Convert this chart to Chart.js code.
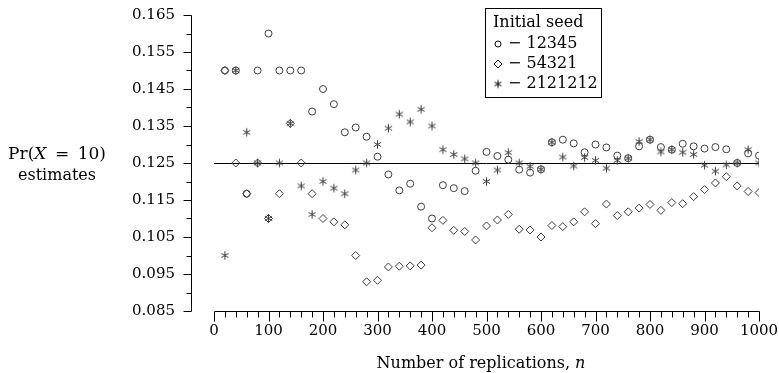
<!DOCTYPE html>
<html><head><meta charset="utf-8">
<script src="https://cdn.jsdelivr.net/npm/chart.js@4/dist/chart.umd.min.js"></script>
<style>html,body{margin:0;padding:0;background:#fff}canvas{display:block}</style>
</head><body>
<canvas id="c" width="779" height="373" style="width:779px;height:373px"></canvas>
<script>
// ---- data ----
const replications = [20,40,60,80,100,120,140,160,180,200,220,240,260,280,300,320,340,360,380,400,
  420,440,460,480,500,520,540,560,580,600,620,640,660,680,700,720,740,760,780,800,
  820,840,860,880,900,920,940,960,980,1000];
const seed12345 = [0.15,0.15,0.1167,0.15,0.16,0.15,0.15,0.15,0.1389,0.145,
  0.1409,0.1333,0.1346,0.1321,0.1267,0.1219,0.1176,0.1194,0.1132,0.11,
  0.119,0.1182,0.1174,0.1229,0.128,0.1269,0.1259,0.1232,0.1224,0.1233,
  0.1306,0.1313,0.1303,0.1279,0.13,0.1292,0.127,0.1263,0.1295,0.1313,
  0.1293,0.1286,0.1302,0.1295,0.1289,0.1293,0.1287,0.125,0.1276,0.127];
const seed54321 = [0.15,0.125,0.1167,0.125,0.11,0.1167,0.1357,0.125,0.1167,0.11,
  0.1091,0.1083,0.1,0.0929,0.0933,0.0969,0.0971,0.0972,0.0974,0.1075,
  0.1095,0.1068,0.1065,0.1042,0.108,0.1096,0.1111,0.1071,0.1069,0.105,
  0.1081,0.1078,0.1091,0.1118,0.1086,0.1139,0.1108,0.1118,0.1128,0.1138,
  0.1122,0.1143,0.114,0.1159,0.1178,0.1196,0.1213,0.1188,0.1173,0.117];
const seed2121212 = [0.1,0.15,0.1333,0.125,0.11,0.125,0.1357,0.1188,0.1111,0.12,
  0.1182,0.1167,0.1231,0.125,0.13,0.1344,0.1382,0.1361,0.1395,0.135,
  0.1286,0.1273,0.1261,0.125,0.12,0.1231,0.1278,0.125,0.1241,0.1233,
  0.1306,0.1266,0.1242,0.1265,0.1257,0.1236,0.1257,0.1263,0.1308,0.1313,
  0.128,0.1286,0.1279,0.1273,0.1244,0.1228,0.1245,0.125,0.1286,0.125];
const seriesNames = ['12345','54321','2121212'];
const legendTitle = 'Initial seed';
const referenceX = [0, 1000];
const referenceY = [0.125, 0.125];
const xTickValues = [0,100,200,300,400,500,600,700,800,900,1000];
const yTickValues = [0.085,0.095,0.105,0.115,0.125,0.135,0.145,0.155,0.165];
const xTitleParts = [['Number of replications, ', false], ['n', true]];
const yTitleLine1 = [['Pr(', false], ['X', true], ['\u2002=\u200210)', false]];
const yTitleLine2 = [['estimates', false]];

// ---- styles ----
const FONT = '"DejaVu Serif", serif';
const MARK = '#3c3c3c';

function makeStar(r, color) {
  const s = 11;
  const c = document.createElement('canvas');
  c.width = s; c.height = s;
  const g = c.getContext('2d');
  g.strokeStyle = color; g.lineWidth = 1;
  const cx = s / 2, cy = s / 2;
  for (let k = 0; k < 3; k++) {
    const a = Math.PI / 2 + k * Math.PI / 3;
    g.beginPath();
    g.moveTo(cx + r * Math.cos(a), cy + r * Math.sin(a));
    g.lineTo(cx - r * Math.cos(a), cy - r * Math.sin(a));
    g.stroke();
  }
  return c;
}
const starImg = makeStar(4.2, MARK);

const pts = arr => replications.map((n, i) => ({x: n, y: arr[i]}));

function drawMixed(ctx, parts, cx, cy, size) {
  let total = 0;
  const ws = parts.map(([t, it]) => {
    ctx.font = (it ? 'italic ' : '') + size + 'px ' + FONT;
    const w = ctx.measureText(t).width; total += w; return w;
  });
  let x = cx - total / 2;
  parts.forEach(([t, it], i) => {
    ctx.font = (it ? 'italic ' : '') + size + 'px ' + FONT;
    ctx.fillText(t, x, cy); x += ws[i];
  });
}

const decor = {
  id: 'decor',
  beforeDatasetDraw(chart, args) {
    chart.ctx.save();
    if (args.index === 3) chart.ctx.translate(0, 0.5);
  },
  afterDatasetDraw(chart) { chart.ctx.restore(); },
  afterDraw(chart) {
    const ctx = chart.ctx, xa = chart.scales.x, ya = chart.scales.y;
    ctx.save();
    ctx.strokeStyle = '#000'; ctx.lineWidth = 1; ctx.fillStyle = '#000';
    const yTop = Math.round(ya.getPixelForValue(ya.max)) + 0.5;
    const yBot = Math.round(ya.getPixelForValue(ya.min)) + 0.5;
    const ax = Math.round(chart.chartArea.left - 23) + 0.5;
    // y axis
    ctx.beginPath(); ctx.moveTo(ax, yTop); ctx.lineTo(ax, yBot); ctx.stroke();
    for (let k = 0; k <= 16; k++) {
      const v = ya.min + k * 0.005;
      const py = Math.round(ya.getPixelForValue(v)) + 0.5;
      const len = k % 2 === 0 ? 8 : 5;
      ctx.beginPath(); ctx.moveTo(ax - len, py); ctx.lineTo(ax, py); ctx.stroke();
    }
    // x axis
    const x0 = Math.round(xa.getPixelForValue(xa.min)) + 0.5;
    const x1 = Math.round(xa.getPixelForValue(xa.max)) + 0.5;
    ctx.beginPath(); ctx.moveTo(x0, yBot); ctx.lineTo(x1, yBot); ctx.stroke();
    for (let v = 0; v <= 1000; v += 20) {
      const px = Math.round(xa.getPixelForValue(v)) + 0.5;
      const len = v % 100 === 0 ? 10 : 6;
      ctx.beginPath(); ctx.moveTo(px, yBot); ctx.lineTo(px, yBot + len); ctx.stroke();
    }
    // titles
    ctx.textBaseline = 'middle';
    drawMixed(ctx, yTitleLine1, 57, 155, 17);
    drawMixed(ctx, yTitleLine2, 57, 176, 16);
    drawMixed(ctx, xTitleParts, 481, 364, 16);
    // legend
    ctx.strokeRect(485.5, 8.5, 116, 89);
    ctx.font = '16px ' + FONT; ctx.textAlign = 'left';
    ctx.fillText(legendTitle, 493, 23);
    const rows = [44, 64, 84];
    chart.data.datasets.slice(0, 3).forEach((ds, i) => {
      const y = rows[i], x = 498;
      ctx.strokeStyle = '#000';
      if (i === 0) { ctx.beginPath(); ctx.arc(x, y, 3, 0, Math.PI * 2); ctx.stroke(); }
      else if (i === 1) { ctx.beginPath(); ctx.moveTo(x, y - 4); ctx.lineTo(x + 4, y); ctx.lineTo(x, y + 4); ctx.lineTo(x - 4, y); ctx.closePath(); ctx.stroke(); }
      else { ctx.drawImage(makeStar(4, '#000'), x - 5.5, y - 5.5); }
      ctx.fillText('\u2212 ' + ds.label, 508, y);
    });
    ctx.restore();
  }
};

new Chart(document.getElementById('c'), {
  type: 'scatter',
  data: {
    datasets: [
      {label: seriesNames[0], data: pts(seed12345), pointStyle: 'circle', pointRadius: 3.5,
       backgroundColor: 'rgba(0,0,0,0)', borderColor: MARK, borderWidth: 1},
      {label: seriesNames[1], data: pts(seed54321), pointStyle: 'rectRot', pointRadius: 4,
       backgroundColor: 'rgba(0,0,0,0)', borderColor: MARK, borderWidth: 1},
      {label: seriesNames[2], data: pts(seed2121212), pointStyle: starImg, pointRadius: 4,
       backgroundColor: MARK, borderColor: MARK, borderWidth: 1},
      {type: 'line', label: 'ref', data: referenceX.map((x, i) => ({x, y: referenceY[i]})),
       borderColor: '#000', borderWidth: 1, pointRadius: 0, showLine: true, fill: false}
    ]
  },
  options: {
    responsive: false, animation: false, devicePixelRatio: 1,
    layout: {padding: {left: 0, top: 15, right: 20, bottom: 0}},
    plugins: {legend: {display: false}, tooltip: {enabled: false}},
    scales: {
      x: {
        type: 'linear', min: 0, max: 1000, position: 'bottom',
        afterBuildTicks: s => { s.ticks = xTickValues.map(v => ({value: v})); },
        afterFit: s => { s.height = 62; s.paddingLeft = 0; s.paddingRight = 0; },
        grid: {display: false, drawTicks: false}, border: {display: false},
        ticks: {autoSkip: false, maxRotation: 0, padding: 11, color: '#000',
                font: {family: FONT, size: 15}, callback: v => String(v)}
      },
      y: {
        type: 'linear', min: 0.085, max: 0.165,
        afterBuildTicks: s => { s.ticks = yTickValues.map(v => ({value: v})); },
        afterFit: s => { s.width = 214; s.paddingTop = 0; s.paddingBottom = 0; },
        grid: {display: false, drawTicks: false}, border: {display: false},
        ticks: {padding: 39, color: '#000', font: {family: FONT, size: 15},
                callback: v => Number(v).toFixed(3)}
      }
    }
  },
  plugins: [decor]
});
</script>
</body></html>
